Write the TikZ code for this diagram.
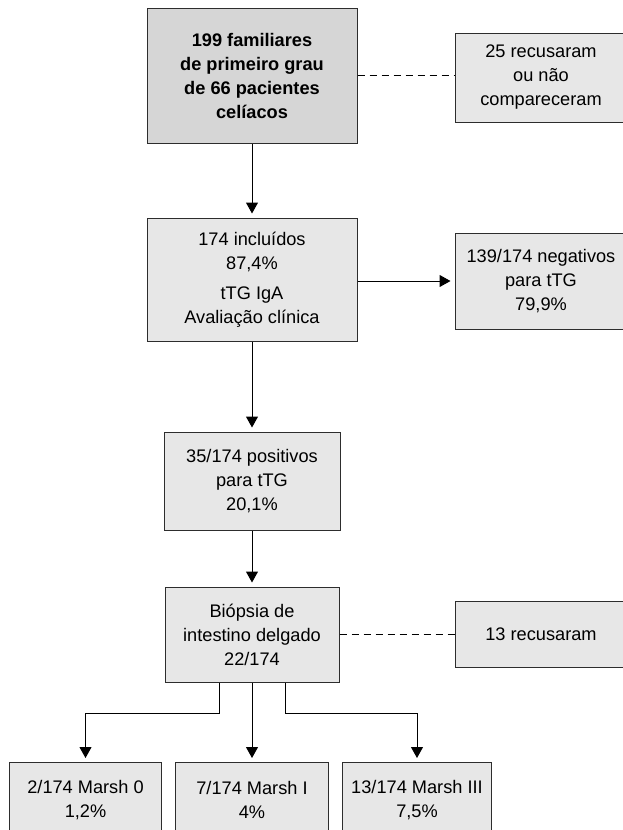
\documentclass[tikz,border=0pt]{standalone}
\usepackage{fontspec}
\setmainfont{Liberation Sans}
\usetikzlibrary{shapes,arrows.meta,positioning,calc}
\usepackage{xcolor}
\definecolor{caixacinza}{RGB}{231,231,231}
\definecolor{topocinza}{RGB}{214,214,214}
\definecolor{bordacinza}{RGB}{45,45,45}

\begin{document}
\begin{tikzpicture}[node distance=200pt,
    caixa/.style={rectangle, draw=bordacinza, line width=1pt, fill=caixacinza, align=center, inner sep=0pt, font=\fontsize{18.2}{24}\selectfont},
    seta/.style={-{Triangle[width=12pt,length=11pt]}, line width=1pt, shorten >=4pt},
    tracejado/.style={line width=0.9pt, dash pattern=on 7pt off 5pt}]

    \useasboundingbox (0,0) rectangle (623pt,-830pt);

    \node[caixa, fill=topocinza, minimum width=210pt, minimum height=135pt, font=\fontsize{18.2}{24}\selectfont\bfseries] (familiares) at (252pt,-75.5pt) {199 familiares\\de primeiro grau\\de 66 pacientes\\celíacos};
    \node[caixa, minimum width=172pt, minimum height=89pt, right of=familiares, xshift=89pt, yshift=-2pt] (recusa) {25 recusaram\\ou não\\compareceram};

    \node[caixa, minimum width=210pt, minimum height=123pt, below of=familiares, yshift=-4pt] (incluidos) {174 incluídos\\87,4\%\\[6pt]tTG IgA\\Avaliação clínica};
    \node[caixa, minimum width=172pt, minimum height=96pt, right of=incluidos, xshift=89pt, yshift=-1.5pt] (negativos) {139/174 negativos\\para tTG\\79,9\%};

    \node[caixa, minimum width=176pt, minimum height=98pt, below of=incluidos, yshift=-1.5pt] (positivos) {35/174 positivos\\para tTG\\20,1\%};

    \node[caixa, minimum width=174pt, minimum height=95pt, below of=positivos, yshift=46.5pt] (biopsia) {Biópsia de\\intestino delgado\\22/174};
    \node[caixa, minimum width=172pt, minimum height=66pt, right of=biopsia, xshift=89pt] (recusa2) {13 recusaram};

    \node[caixa, minimum width=153pt, minimum height=75pt, below of=biopsia, yshift=34.5pt] (marsh1) {7/174 Marsh I\\4\%};
    \node[caixa, minimum width=152pt, minimum height=75pt, left of=marsh1, xshift=33.5pt] (marsh0) {2/174 Marsh 0\\1,2\%};
    \node[caixa, minimum width=149pt, minimum height=75pt, right of=marsh1, xshift=-35pt] (marsh3) {13/174 Marsh III\\7,5\%};

    \draw[tracejado] (familiares) -- (familiares -| recusa.west);
    \draw[seta] (familiares) -- (incluidos);
    \draw[seta] (incluidos.east |- negativos) -- (negativos);
    \draw[seta] (incluidos) -- (positivos);
    \draw[seta] (positivos) -- (biopsia);
    \draw[tracejado] (biopsia.east |- recusa2) -- (recusa2);

    \draw[seta] ([xshift=-33pt]biopsia.south) -- ++(0,-31pt) -| (marsh0.north);
    \draw[seta] (biopsia) -- (marsh1);
    \draw[seta] ([xshift=33pt]biopsia.south) -- ++(0,-31pt) -| (marsh3.north);
\end{tikzpicture}
\end{document}
